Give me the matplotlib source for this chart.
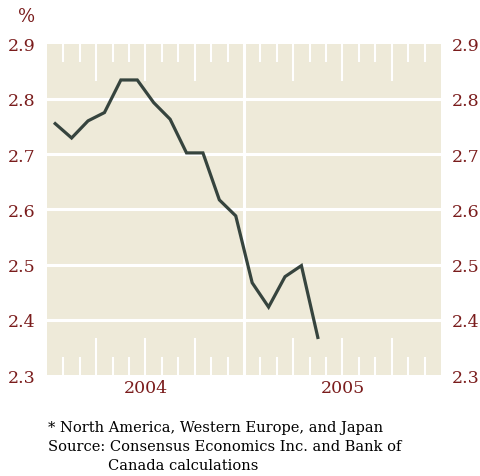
import numpy as np
import matplotlib.pyplot as plt

# monthly values, Jan 2004 - May 2005
months = np.arange(17)
values = [2.755, 2.729, 2.760, 2.775, 2.834, 2.834, 2.793, 2.763, 2.702, 2.702,
          2.617, 2.588, 2.467, 2.423, 2.478, 2.498, 2.368]
yticks = [2.3, 2.4, 2.5, 2.6, 2.7, 2.8, 2.9]
ytick_labels = ['2.3', '2.4', '2.5', '2.6', '2.7', '2.8', '2.9']
years = ['2004', '2005']

red = '#7a1c1c'
bg = '#eeead9'

plt.rcParams['font.family'] = ['DejaVu Serif']

fig = plt.figure(figsize=(4.81, 4.77), dpi=100)
ax = fig.add_axes([0.0977, 0.2117, 0.819, 0.695])
ax.set_facecolor(bg)
for s in ax.spines.values():
    s.set_visible(False)

ax.set_xlim(0, 24)
ax.set_ylim(2.3, 2.9)

# horizontal grid
for y in yticks[1:-1]:
    ax.axhline(y, color='white', lw=2.2, zorder=1)
# year line
ax.axvline(12, color='white', lw=2.2, zorder=1)

# month ticks top and bottom
tr = ax.get_xaxis_transform()
for m in range(1, 24):
    if m == 12:
        continue
    h = 0.11 if m % 3 == 0 else 0.052
    ax.plot([m, m], [0, h], color='white', lw=1.5, transform=tr, zorder=1)
    ax.plot([m, m], [1 - h, 1], color='white', lw=1.5, transform=tr, zorder=1)

ax.plot(months + 0.5, values, color='#36443e', lw=2.3, zorder=3,
        solid_joinstyle='miter')

ax.set_yticks(yticks)
ax.set_yticklabels(ytick_labels)
ax.tick_params(axis='y', length=0, labelsize=12.5, labelcolor=red, pad=8,
               labelright=True)
ax.set_xticks([6, 18])
ax.set_xticklabels(years)
ax.tick_params(axis='x', length=0, labelsize=12.5, labelcolor=red, pad=3)

fig.text(0.037, 0.964, '%', color=red, fontsize=13, va='center')

fig.text(0.1, 0.103, '* North America, Western Europe, and Japan', fontsize=10.5, va='center')
fig.text(0.1, 0.063, 'Source: Consensus Economics Inc. and Bank of', fontsize=10.5, va='center')
fig.text(0.225, 0.023, 'Canada calculations', fontsize=10.5, va='center')

fig.savefig('out.png', dpi=100, facecolor='white')
